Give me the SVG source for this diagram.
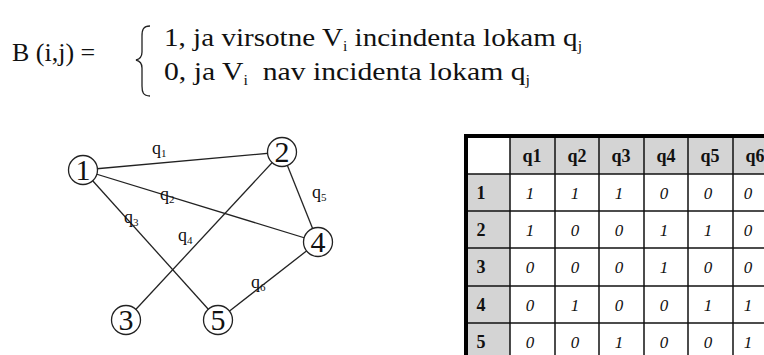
<svg xmlns="http://www.w3.org/2000/svg" width="764" height="355" viewBox="0 0 764 355">
<style>
text{font-family:'Liberation Serif','Times New Roman','DejaVu Serif',serif;fill:#111}
.f{font-size:26px}
.sub{font-size:14px}
.lbl{font-size:18px}
.lsub{font-size:11px}
.num{font-size:30px;text-anchor:middle}
.node{fill:#fff;stroke:#222;stroke-width:1.3}
.edge{stroke:#222;stroke-width:1.3;fill:none}
.hd{font-size:18px;font-weight:bold;text-anchor:middle}
.v{font-size:17px;font-style:italic;text-anchor:middle;fill:#333}
.g{fill:#d4d4d4}
.grid{stroke:#111;stroke-width:1.5}
</style>
<rect width="764" height="355" fill="#fff"/>
<g id="formula">
<text class="f" x="12" y="61">B (i,j) =</text>
<path d="M150,26 C143,26 142,30 142,36 L142,52 C142,57 140,59 136,60 C140,61 142,63 142,68 L142,86 C142,92 143,96 150,96" fill="none" stroke="#222" stroke-width="1.3"/>
<text class="f" x="164" y="46" textLength="418" lengthAdjust="spacingAndGlyphs">1, ja virsotne V<tspan class="sub" dy="5">i</tspan><tspan dy="-5"> incindenta lokam q</tspan><tspan class="sub" dy="5">j</tspan></text>
<text class="f" x="164" y="80" textLength="366" lengthAdjust="spacingAndGlyphs">0, ja V<tspan class="sub" dy="5">i</tspan><tspan dy="-5" xml:space="preserve">  nav incidenta lokam q</tspan><tspan class="sub" dy="5">j</tspan></text>
</g>
<g id="edges">
<line class="edge" x1="83" y1="170" x2="282" y2="152"/>
<line class="edge" x1="83" y1="170" x2="318" y2="242"/>
<line class="edge" x1="83" y1="170" x2="218" y2="320"/>
<line class="edge" x1="282" y1="152" x2="126" y2="320"/>
<line class="edge" x1="282" y1="152" x2="318" y2="242"/>
<line class="edge" x1="318" y1="242" x2="218" y2="320"/>
<text class="lbl" x="152" y="154">q<tspan class="lsub" dy="3">1</tspan></text>
<text class="lbl" x="160" y="200">q<tspan class="lsub" dy="3">2</tspan></text>
<text class="lbl" x="124" y="223">q<tspan class="lsub" dy="3">3</tspan></text>
<text class="lbl" x="178" y="241">q<tspan class="lsub" dy="3">4</tspan></text>
<text class="lbl" x="312" y="198">q<tspan class="lsub" dy="3">5</tspan></text>
<text class="lbl" x="251" y="288">q<tspan class="lsub" dy="3">6</tspan></text>
</g>
<g id="n1"><circle class="node" cx="83" cy="170" r="14.5"/><text class="num" x="83" y="180">1</text></g>
<g id="n2"><circle class="node" cx="282" cy="152" r="14.5"/><text class="num" x="282" y="162">2</text></g>
<g id="n3"><circle class="node" cx="126" cy="320" r="14.5"/><text class="num" x="126" y="330">3</text></g>
<g id="n4"><circle class="node" cx="318" cy="242" r="14.5"/><text class="num" x="318" y="252">4</text></g>
<g id="n5"><circle class="node" cx="218" cy="320" r="14.5"/><text class="num" x="218" y="330">5</text></g>
<g id="table">
<rect class="g" x="510" y="138" width="254" height="36"/>
<rect class="g" x="468" y="174" width="42" height="181"/>
<g class="grid">
<line x1="510" y1="138" x2="510" y2="355"/>
<line x1="555" y1="138" x2="555" y2="355"/>
<line x1="599" y1="138" x2="599" y2="355"/>
<line x1="644" y1="138" x2="644" y2="355"/>
<line x1="688" y1="138" x2="688" y2="355"/>
<line x1="733" y1="138" x2="733" y2="355"/>
<line x1="468" y1="174" x2="764" y2="174"/>
<line x1="468" y1="211" x2="764" y2="211"/>
<line x1="468" y1="248" x2="764" y2="248"/>
<line x1="468" y1="286" x2="764" y2="286"/>
<line x1="468" y1="323" x2="764" y2="323"/>
</g>
<path d="M466,355 L466,136 L764,136" fill="none" stroke="#000" stroke-width="4"/>
<g class="hd">
<text x="532" y="162">q1</text><text x="577" y="162">q2</text><text x="621" y="162">q3</text><text x="666" y="162">q4</text><text x="710" y="162">q5</text><text x="755" y="162">q6</text>
<text x="481" y="199">1</text><text x="481" y="236">2</text><text x="481" y="273">3</text><text x="481" y="311">4</text><text x="481" y="348">5</text>
</g>
<g class="v">
<text x="530" y="199">1</text><text x="575" y="199">1</text><text x="619" y="199">1</text><text x="664" y="199">0</text><text x="708" y="199">0</text><text x="748" y="199">0</text>
<text x="530" y="236">1</text><text x="575" y="236">0</text><text x="619" y="236">0</text><text x="664" y="236">1</text><text x="708" y="236">1</text><text x="748" y="236">0</text>
<text x="530" y="273">0</text><text x="575" y="273">0</text><text x="619" y="273">0</text><text x="664" y="273">1</text><text x="708" y="273">0</text><text x="748" y="273">0</text>
<text x="530" y="311">0</text><text x="575" y="311">1</text><text x="619" y="311">0</text><text x="664" y="311">0</text><text x="708" y="311">1</text><text x="748" y="311">1</text>
<text x="530" y="348">0</text><text x="575" y="348">0</text><text x="619" y="348">1</text><text x="664" y="348">0</text><text x="708" y="348">0</text><text x="748" y="348">1</text>
</g>
</g>
</svg>
